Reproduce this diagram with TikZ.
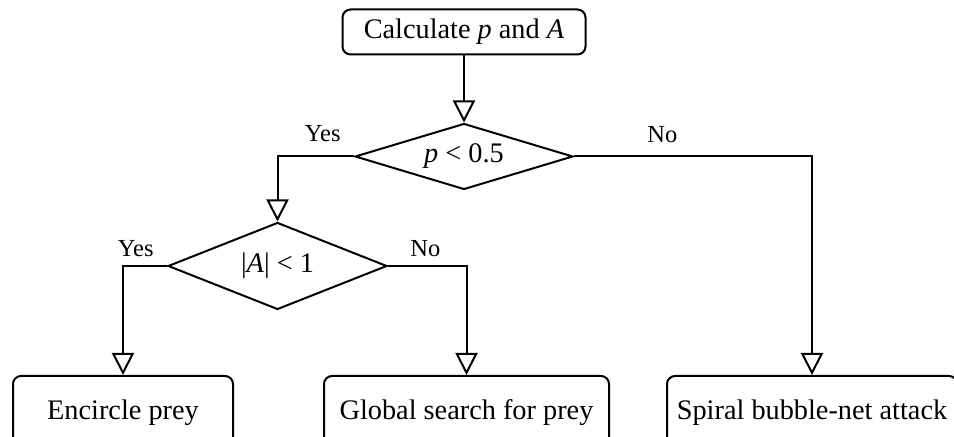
\documentclass[tikz,border=0pt]{standalone}
\usepackage{fontspec}
\setmainfont{Liberation Serif}
\usepackage{tikz}
\usetikzlibrary{shapes.geometric, arrows.meta, positioning}

\begin{document}
\begin{tikzpicture}[
  x=0.5pt, y=-0.5pt,
  box/.style={rectangle, rounded corners=4pt, draw, line width=1pt, fill=white,
              inner sep=0pt, font=\fontsize{14.15pt}{17pt}\selectfont},
  cond/.style={diamond, draw, line width=1pt, inner sep=0pt, aspect=3,
               font=\fontsize{14.15pt}{17pt}\selectfont},
  lbl/.style={inner sep=0pt, font=\fontsize{12.25pt}{14pt}\selectfont},
  arr/.style={-{Triangle[open, length=11pt, width=11pt]}, line width=1pt}
]
  \useasboundingbox (0,0) rectangle (954,437);

  \node[box, minimum width=121.5pt, minimum height=22.5pt] (calc) at (464,32)
    {Calculate \textit{p} and \textit{A}};
  \node[cond, minimum width=109pt, minimum height=33pt, below=33.5pt of calc] (c1)
    {\textit{p} < 0.5};
  \node[cond, minimum width=109.5pt, minimum height=43.5pt, aspect=2.5] (c2) at (277.5,266)
    {|\textit{A}| < 1};

  % Actions
  \node[box, minimum width=110pt, minimum height=36.5pt] (encircle) at (123,412.5)
    {Encircle prey};
  \node[box, minimum width=142.5pt, minimum height=36.5pt, right=44.5pt of encircle] (search)
    {Global search for prey};
  \node[box, minimum width=145pt, minimum height=36.5pt, right=28pt of search] (spiral)
    {Spiral bubble-net attack};

  \draw[arr] (calc) -- (c1);
  \draw[arr] (c1.west) -| (c2.north);
  \draw[arr] (c1.east) -| (spiral.north);
  \draw[arr] (c2.west) -| (encircle.north);
  \draw[arr] (c2.east) -| (search.north);

  % Branch labels
  \node[lbl, above left=7pt and 6.5pt of c1.west] (yes1) {Yes};
  \node[lbl, above right=6.5pt and 36.5pt of c1.east] (no1) {No};
  \node[lbl, above left=4.5pt and 6.5pt of c2.west] (yes2) {Yes};
  \node[lbl, above right=4.5pt and 11pt of c2.east] (no2) {No};
\end{tikzpicture}
\end{document}
